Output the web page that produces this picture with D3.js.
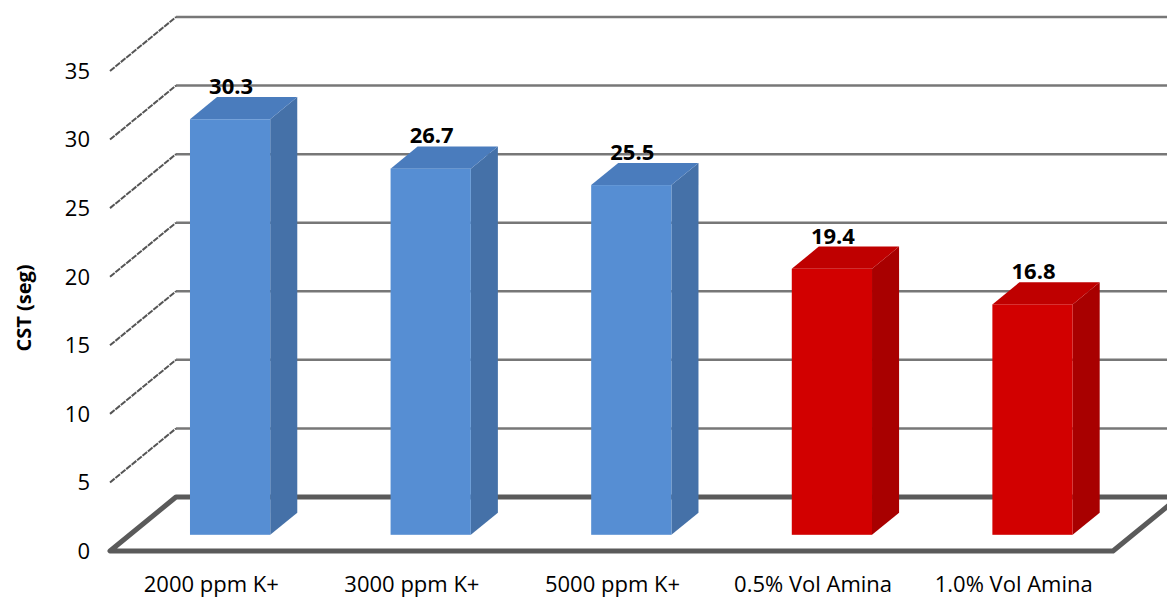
<!DOCTYPE html>
<html lang="es">
<head>
<meta charset="UTF-8">
<title>CST (seg)</title>
<script src="https://d3js.org/d3.v7.min.js"></script>
<style>
  body { margin: 0; background: #fff; }
  svg { display: block; font-family: "Open Sans", "DejaVu Sans", sans-serif; }
</style>
</head>
<body>
<div id="chart"></div>
<script>
// datos
const categories = ["2000 ppm K+", "3000 ppm K+", "5000 ppm K+", "0.5% Vol Amina", "1.0% Vol Amina"];
const values = [30.3, 26.7, 25.5, 19.4, 16.8];
const groups = ["k", "k", "k", "amina", "amina"];
const yTicks = [0, 5, 10, 15, 20, 25, 30, 35];

const width = 1167, height = 601;
const depthX = 66, depthY = -54;   // profundidad del piso
const barZ0 = 0.3, barZ1 = 0.71;  // posición de la barra dentro de la profundidad

const palette = {
  k:     { front: "#568ed3", side: "#4571a8", top: "#4a7cbd" },
  amina: { front: "#d20000", side: "#a80000", top: "#bf0000" }
};

const svg = d3.select("#chart").append("svg")
  .attr("width", width)
  .attr("height", height);

const x = d3.scaleBand()
  .domain(categories)
  .range([110, 1113])
  .paddingInner(0.6)
  .paddingOuter(0.3);

const y = d3.scaleLinear()
  .domain([0, 35])
  .range([551, 71]);

const x0 = x.range()[0], x1 = x.range()[1];

// pared del fondo: lineas de cuadricula
svg.append("g").selectAll("line")
  .data(yTicks.filter(t => t > 0))
  .enter().append("line")
  .attr("x1", x0 + depthX)
  .attr("x2", x1 + depthX)
  .attr("y1", d => y(d) + depthY)
  .attr("y2", d => y(d) + depthY)
  .attr("stroke", "#777")
  .attr("stroke-width", 2.5);

// pared lateral: diagonales
svg.append("g").selectAll("line")
  .data(yTicks.filter(t => t > 0))
  .enter().append("line")
  .attr("x1", x0)
  .attr("y1", d => y(d))
  .attr("x2", x0 + depthX)
  .attr("y2", d => y(d) + depthY)
  .attr("stroke", "#555")
  .attr("stroke-width", 2)
  .attr("stroke-dasharray", "6,1");

// piso
const floorPts = [
  [x0, y(0)], [x1, y(0)],
  [x1 + depthX, y(0) + depthY], [x0 + depthX, y(0) + depthY]
];
svg.append("polygon")
  .attr("points", floorPts.map(p => p.join(",")).join(" "))
  .attr("fill", "#fff")
  .attr("stroke", "#5a5a5a")
  .attr("stroke-width", 5)
  .attr("stroke-linejoin", "round");

// barras 3D
const bars = svg.append("g").selectAll("g")
  .data(values.map((v, i) => ({ cat: categories[i], v, g: groups[i] })))
  .enter().append("g");

bars.each(function(d) {
  const g = d3.select(this);
  const c = palette[d.g];
  const fx = x(d.cat) + depthX * barZ0;
  const fw = x.bandwidth();
  const fy0 = y(0) + depthY * barZ0;
  const fyt = y(d.v) + depthY * barZ0;
  const ddx = depthX * (barZ1 - barZ0);
  const ddy = depthY * (barZ1 - barZ0);

  // cara lateral
  g.append("polygon")
    .attr("points", [
      [fx + fw, fyt], [fx + fw + ddx, fyt + ddy],
      [fx + fw + ddx, fy0 + ddy], [fx + fw, fy0]
    ].map(p => p.join(",")).join(" "))
    .attr("fill", c.side);

  // cara superior
  g.append("polygon")
    .attr("points", [
      [fx, fyt], [fx + ddx, fyt + ddy],
      [fx + fw + ddx, fyt + ddy], [fx + fw, fyt]
    ].map(p => p.join(",")).join(" "))
    .attr("fill", c.top);

  // cara frontal
  g.append("rect")
    .attr("x", fx)
    .attr("y", fyt)
    .attr("width", fw)
    .attr("height", fy0 - fyt)
    .attr("fill", c.front);

  // etiqueta de valor
  g.append("text")
    .attr("x", fx + fw / 2 + 1)
    .attr("y", fyt + ddy - 3)
    .attr("text-anchor", "middle")
    .attr("font-size", 22)
    .attr("font-weight", "bold")
    .attr("fill", "#000")
    .text(d.v.toFixed(1));
});

// etiquetas del eje Y
svg.append("g").selectAll("text")
  .data(yTicks)
  .enter().append("text")
  .attr("x", 90)
  .attr("y", d => y(d))
  .attr("dy", "0.36em")
  .attr("text-anchor", "end")
  .attr("font-size", 22)
  .attr("fill", "#000")
  .text(d => d);

// etiquetas del eje X
svg.append("g").selectAll("text")
  .data(categories)
  .enter().append("text")
  .attr("x", d => x(d) + x.bandwidth() / 2 + 1)
  .attr("y", 592)
  .attr("text-anchor", "middle")
  .attr("font-size", 22)
  .attr("fill", "#000")
  .text(d => d);

// titulo del eje Y
svg.append("text")
  .attr("transform", "translate(31,308) rotate(-90)")
  .attr("text-anchor", "middle")
  .attr("font-size", 20)
  .attr("font-weight", "bold")
  .attr("fill", "#000")
  .text("CST (seg)");
</script>
</body>
</html>
